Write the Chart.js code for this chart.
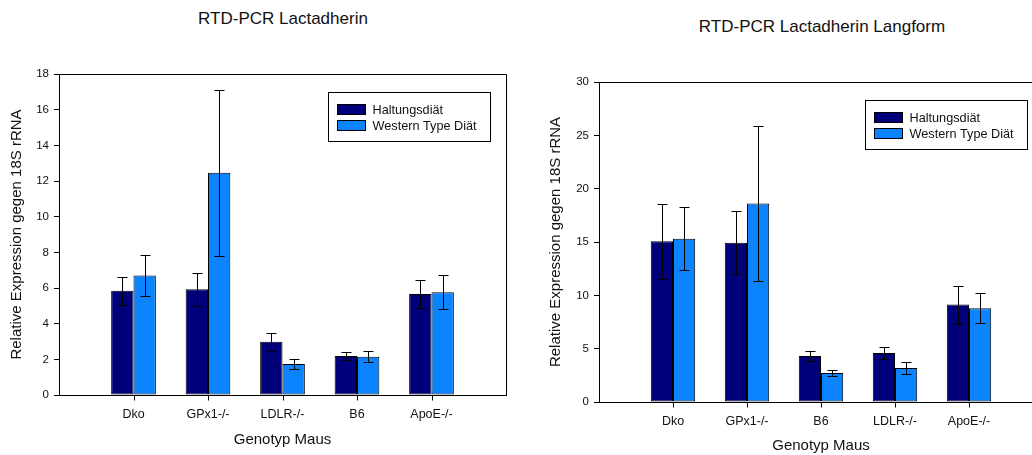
<!DOCTYPE html>
<html>
<head>
<meta charset="utf-8">
<script src="https://cdn.jsdelivr.net/npm/chart.js@4.4.1/dist/chart.umd.min.js"></script>
<style>
  html, body { margin: 0; padding: 0; background: #fff; }
  body { width: 1032px; height: 455px; overflow: hidden; position: relative; font-family: "Liberation Sans", Arial, sans-serif; }
  .titel { position: absolute; font-size: 17px; line-height: 20px; color: #111; white-space: nowrap; transform: translateX(-50%); }
  canvas { position: absolute; top: 0; }
</style>
</head>
<body>
<div class="titel" style="left:283px; top:9px;">RTD-PCR Lactadherin</div>
<div class="titel" style="left:822px; top:17px;">RTD-PCR Lactadherin Langform</div>
<canvas id="chartLinks" width="520" height="455" style="left:0px"></canvas>
<canvas id="chartRechts" width="530" height="455" style="left:530px"></canvas>
<script>
// Daten links: RTD-PCR Lactadherin
var kategorienLinks = ['Dko', 'GPx1-/-', 'LDLR-/-', 'B6', 'ApoE-/-']
var haltungLinks = [5.85, 5.93, 2.99, 2.19, 5.67]
var haltungLinksFehler = [0.78, 0.93, 0.5, 0.2, 0.8]
var westernLinks = [6.7, 12.46, 1.74, 2.15, 5.76]
var westernLinksFehler = [1.16, 4.65, 0.3, 0.3, 0.96]

// Daten rechts: RTD-PCR Lactadherin Langform
var kategorienRechts = ['Dko', 'GPx1-/-', 'B6', 'LDLR-/-', 'ApoE-/-']
var haltungRechts = [15.06, 14.94, 4.31, 4.59, 9.13]
var haltungRechtsFehler = [3.5, 2.95, 0.5, 0.55, 1.78]
var westernRechts = [15.31, 18.6, 2.72, 3.19, 8.78]
var westernRechtsFehler = [2.95, 7.25, 0.3, 0.58, 1.4]

var serienNamen = ['Haltungsdiät', 'Western Type Diät']
var farbeDunkel = 'rgb(0,0,122)'
var farbeHell = 'rgb(12,132,255)'
var schrift = '"Liberation Sans", Arial, sans-serif'

// leere Plaetze links und rechts, damit die Gruppen wie im Original sitzen
function mitRand(arr, leer) {
    return [leer].concat(arr).concat([leer])
}

// Rahmen oben/rechts und die kleinen Striche unter den Gruppen
var rahmenPlugin = {
    id: 'rahmen',
    afterDraw: function (chart) {
        var ctx = chart.ctx
        var a = chart.chartArea
        var x = chart.scales.x
        ctx.save()
        ctx.strokeStyle = '#000'
        ctx.lineWidth = 1
        ctx.beginPath()
        ctx.moveTo(Math.round(a.left) + 0.5, Math.round(a.top) + 0.5)
        ctx.lineTo(Math.round(a.right) + 0.5, Math.round(a.top) + 0.5)
        ctx.lineTo(Math.round(a.right) + 0.5, Math.round(a.bottom) + 0.5)
        var unten = Math.round(a.bottom) + 0.5
        for (var i = 1; i < chart.data.labels.length - 1; i++) {
            var px = Math.round(x.getPixelForTick(i)) + 0.5
            ctx.moveTo(px, unten)
            ctx.lineTo(px, unten + 5)
        }
        ctx.stroke()
        ctx.restore()
    }
}

var fehlerPlugin = {
    id: 'fehlerbalken',
    afterDatasetsDraw: function (chart) {
        var ctx = chart.ctx
        var y = chart.scales.y
        ctx.save()
        ctx.strokeStyle = '#000'
        ctx.lineWidth = 1
        chart.data.datasets.forEach(function (ds, i) {
            var meta = chart.getDatasetMeta(i)
            meta.data.forEach(function (bar, j) {
                var wert = ds.data[j]
                var fehler = ds.fehler[j]
                if (wert == null || fehler == null) return
                var x = Math.round(bar.x) + 0.5
                var oben = Math.round(y.getPixelForValue(wert + fehler)) + 0.5
                var unten = Math.round(y.getPixelForValue(wert - fehler)) + 0.5
                ctx.beginPath()
                ctx.moveTo(x, oben)
                ctx.lineTo(x, unten)
                ctx.moveTo(x - 5, oben)
                ctx.lineTo(x + 5, oben)
                ctx.moveTo(x - 5, unten)
                ctx.lineTo(x + 5, unten)
                ctx.stroke()
            })
        })
        ctx.restore()
    }
}

var legendePlugin = {
    id: 'legendeBox',
    afterDraw: function (chart) {
        var ctx = chart.ctx
        var a = chart.chartArea
        var bx = Math.round(a.right - 178) + 0.5
        var by = Math.round(a.top + 18) + 0.5
        ctx.save()
        ctx.fillStyle = '#fff'
        ctx.fillRect(bx, by, 162, 49)
        ctx.strokeStyle = '#000'
        ctx.lineWidth = 1
        ctx.strokeRect(bx, by, 162, 49)
        ctx.font = '12.7px ' + schrift
        ctx.textBaseline = 'middle'
        chart.data.datasets.forEach(function (ds, i) {
            var sy = by + 12 + i * 16
            ctx.fillStyle = ds.backgroundColor
            ctx.fillRect(bx + 9, sy, 28, 10)
            ctx.strokeRect(bx + 9, sy, 28, 10)
            ctx.fillStyle = '#111'
            ctx.fillText(ds.label, bx + 44, sy + 5.5)
        })
        ctx.restore()
    }
}

function plotarDiagramm(id, kategorien, haltung, haltungFehler, western, westernFehler, yMax, yStep, opt) {
    var ctx = document.getElementById(id)
    return new Chart(ctx, {
        type: 'bar',
        data: {
            labels: mitRand(kategorien, ''),
            datasets: [{
                label: serienNamen[0],
                data: mitRand(haltung, null),
                fehler: mitRand(haltungFehler, null),
                backgroundColor: farbeDunkel,
                borderColor: '#000',
                borderWidth: 1,
                borderSkipped: false
            }, {
                label: serienNamen[1],
                data: mitRand(western, null),
                fehler: mitRand(westernFehler, null),
                backgroundColor: farbeHell,
                borderColor: '#000',
                borderWidth: 1,
                borderSkipped: false
            }]
        },
        options: {
            responsive: false,
            animation: false,
            devicePixelRatio: 1,
            categoryPercentage: 0.6,
            barPercentage: 1.0,
            layout: { padding: { top: opt.top, right: opt.right, left: 0, bottom: 0 } },
            plugins: {
                legend: { display: false },
                title: { display: false },
                tooltip: { enabled: false }
            },
            scales: {
                x: {
                    offset: false,
                    grid: { display: false, drawTicks: false },
                    border: { display: true, color: '#000' },
                    ticks: { color: '#111', padding: 12, maxRotation: 0, autoSkip: false, font: { family: schrift, size: 12.5 } },
                    title: { display: true, text: 'Genotyp Maus', color: '#111', padding: { top: 0, bottom: opt.xTitelPad }, font: { family: schrift, size: 15 } },
                    afterFit: function (s) { s.height = opt.xHoehe }
                },
                y: {
                    min: 0,
                    max: yMax,
                    grid: { drawOnChartArea: false, tickLength: 5, color: '#000' },
                    border: { display: true, color: '#000' },
                    ticks: { stepSize: yStep, color: '#111', padding: 5, font: { family: schrift, size: 11.5 } },
                    title: { display: true, text: 'Relative Expression gegen 18S rRNA', color: '#111', padding: { top: opt.yTitelPad, bottom: 0 }, font: { family: schrift, size: 15 } },
                    afterFit: function (s) { s.width = opt.yBreite }
                }
            }
        },
        plugins: [fehlerPlugin, rahmenPlugin, legendePlugin]
    })
}

plotarDiagramm('chartLinks', kategorienLinks, haltungLinks, haltungLinksFehler, westernLinks, westernLinksFehler, 18, 2,
    { top: 74, right: 14, xHoehe: 60, yBreite: 59, yTitelPad: 8, xTitelPad: 6 })

plotarDiagramm('chartRechts', kategorienRechts, haltungRechts, haltungRechtsFehler, westernRechts, westernRechtsFehler, 30, 5,
    { top: 82, right: 17, xHoehe: 53, yBreite: 69, yTitelPad: 17, xTitelPad: 0 })
</script>
</body>
</html>
